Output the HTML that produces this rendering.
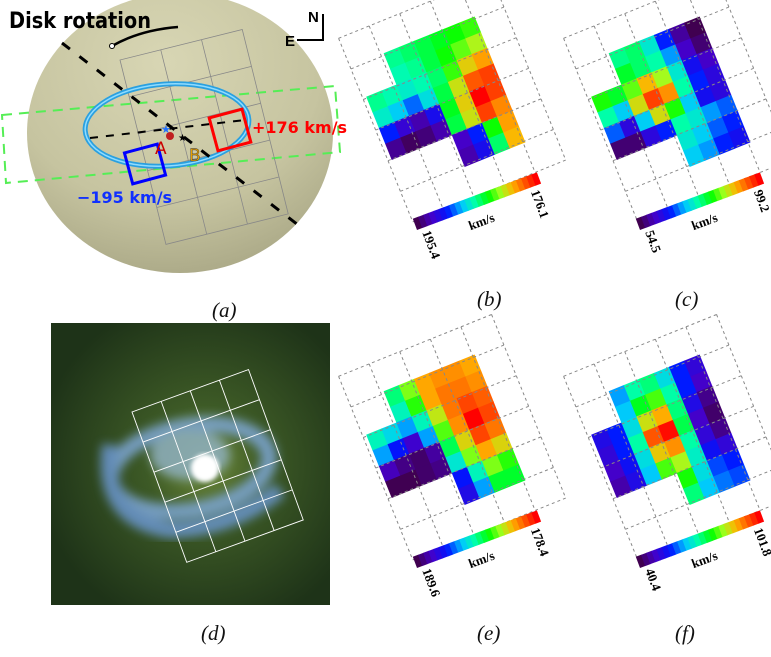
<!DOCTYPE html>
<html><head><meta charset="utf-8">
<style>
html,body{margin:0;padding:0;background:#fff;}
svg{display:block;font-family:"Liberation Sans",sans-serif;}
.lbl{font-family:"Liberation Serif",serif;font-style:italic;font-size:21px;fill:#111;}
</style></head>
<body>
<svg id="fig" width="771" height="657" viewBox="0 0 771 657" xmlns="http://www.w3.org/2000/svg">
<defs>
  <radialGradient id="sph" cx="0.45" cy="0.25" r="0.85">
    <stop offset="0" stop-color="#d8d6b4"/>
    <stop offset="0.6" stop-color="#c6c4a0"/>
    <stop offset="1" stop-color="#a3a180"/>
  </radialGradient>
  <radialGradient id="gal" cx="0.55" cy="0.5" r="0.6">
    <stop offset="0" stop-color="#6f8a3a"/>
    <stop offset="0.35" stop-color="#3d5a26"/>
    <stop offset="1" stop-color="#1e3318"/>
  </radialGradient>
  <filter id="blur2"><feGaussianBlur stdDeviation="2"/></filter>
  <filter id="blur5"><feGaussianBlur stdDeviation="5"/></filter>
</defs>

<g>
  <ellipse cx="180" cy="133" rx="153" ry="140" fill="url(#sph)"/>
  <polygon points="2,115 335,86 340,152 6,183" fill="none" stroke="#55ee55" stroke-width="2" stroke-dasharray="10,7"/>
  <g transform="translate(120,60) rotate(-14)" stroke="#888" stroke-width="0.8" fill="none">
    <rect x="0" y="0" width="126" height="190"/>
    <line x1="42" y1="0" x2="42" y2="190"/><line x1="84" y1="0" x2="84" y2="190"/>
    <line x1="0" y1="38" x2="126" y2="38"/><line x1="0" y1="76" x2="126" y2="76"/>
    <line x1="0" y1="114" x2="126" y2="114"/><line x1="0" y1="152" x2="126" y2="152"/>
  </g>
  <ellipse cx="167" cy="125" rx="82" ry="41" transform="rotate(-4 167 125)" fill="none" stroke="#2aa0e0" stroke-width="5"/>
  <ellipse cx="167" cy="125" rx="82" ry="41" transform="rotate(-4 167 125)" fill="none" stroke="#8fdcff" stroke-width="1.5"/>
  <line x1="62" y1="43" x2="302" y2="228" stroke="#000" stroke-width="3" stroke-dasharray="10,12"/>
  <line x1="90" y1="138" x2="245" y2="120" stroke="#000" stroke-width="2" stroke-dasharray="8,8"/>
  <path d="M112,46 Q140,30 178,27" fill="none" stroke="#000" stroke-width="2.5"/>
  <circle cx="112" cy="46" r="2.5" fill="#fff" stroke="#000"/>
  <text x="9" y="28" font-size="22" font-weight="bold" font-family="DejaVu Sans,sans-serif" fill="#000" textLength="142" lengthAdjust="spacingAndGlyphs">Disk rotation</text>
  <rect x="213" y="113" width="34" height="34" transform="rotate(-15 230 130)" fill="none" stroke="#f00" stroke-width="3"/>
  <rect x="128" y="148" width="34" height="32" transform="rotate(-15 145 164)" fill="none" stroke="#00f" stroke-width="3"/>
  <text x="252" y="133" font-size="16" font-weight="bold" font-family="DejaVu Sans,sans-serif" fill="#f00">+176 km/s</text>
  <text x="77" y="203" font-size="16" font-weight="bold" font-family="DejaVu Sans,sans-serif" fill="#1030ff">−195 km/s</text>
  <text x="155" y="154" font-size="17" fill="#c00" font-family="DejaVu Sans,sans-serif">A</text>
  <text x="189" y="161" font-size="17" fill="#e8a000" stroke="#333" stroke-width="0.4" font-family="DejaVu Sans,sans-serif">B</text>
  <circle cx="170" cy="136" r="4" fill="#c02020"/>
  <text x="178" y="141" font-size="10" fill="#000">★</text>
  <text x="161" y="133" font-size="11" fill="#2070ff">★</text>
  <g stroke="#000" stroke-width="2" fill="none">
    <polyline points="297,40 323,40 323,14"/>
  </g>
  <text x="308" y="22" font-size="15" font-weight="bold">N</text>
  <text x="285" y="46" font-size="15" font-weight="bold">E</text>
  <text class="lbl" x="212" y="317">(a)</text>
</g>

<g>
  <rect x="51" y="323" width="279" height="282" fill="url(#gal)"/>
  <g filter="url(#blur5)" opacity="0.85">
    <ellipse cx="190" cy="468" rx="80" ry="42" transform="rotate(-10 190 468)" fill="none" stroke="#7fa8d8" stroke-width="16"/>
    <path d="M110,445 Q100,520 170,530 Q230,530 280,490" fill="none" stroke="#6a96d0" stroke-width="16"/>
    <ellipse cx="190" cy="455" rx="40" ry="25" fill="#8fb0c0"/>
  </g>
  <circle cx="205" cy="468" r="14" fill="#fff" filter="url(#blur2)"/>
  <g transform="translate(132,412) rotate(-20)" stroke="#fff" stroke-width="0.9" fill="none">
    <rect x="0" y="0" width="124" height="160"/>
    <line x1="31" y1="0" x2="31" y2="160"/><line x1="62" y1="0" x2="62" y2="160"/><line x1="93" y1="0" x2="93" y2="160"/>
    <line x1="0" y1="32" x2="124" y2="32"/><line x1="0" y1="64" x2="124" y2="64"/><line x1="0" y1="96" x2="124" y2="96"/><line x1="0" y1="128" x2="124" y2="128"/>
  </g>
  <text class="lbl" x="201" y="640">(d)</text>
</g>

<g id="maps"></g>

<text class="lbl" x="477" y="306">(b)</text>
<text class="lbl" x="675" y="306">(c)</text>
<text class="lbl" x="477" y="640">(e)</text>
<text class="lbl" x="675" y="640">(f)</text>
</svg>

<script>
const n = null;
const mapB = [
  [n,n,-10,0,10,20,30,40],
  [n,n,-20,-10,10,30,50,70],
  [-10,-20,-30,-20,0,40,90,110],
  [-30,-50,-80,-40,10,80,140,150],
  [-100,-140,-160,-120,20,90,176,150],
  [-170,-190,-180,-160,10,80,150,120],
  [n,n,n,n,-150,-100,30,110],
  [n,n,n,n,-160,-120,0,100]
];
const mapC = [
  [n,n,77,78,74,66,58,54.5],
  [n,n,80,78,76,70,60,56],
  [82,80,84,90,86,74,64,60],
  [76,72,88,96,92,76,66,62],
  [68,62,72,88,82,72,64,62],
  [56,56,62,66,76,74,70,68],
  [n,n,n,n,74,72,68,66],
  [n,n,n,n,72,70,66,64]
];
const mapE = [
  [n,n,0,60,110,120,120,110],
  [n,n,-20,40,110,130,130,120],
  [-20,-40,-60,-20,80,130,150,140],
  [-60,-100,-140,-60,50,120,178,150],
  [-150,-170,-180,-160,10,90,150,130],
  [-189,-189,-180,-170,-30,60,110,90],
  [n,n,n,n,-100,-20,60,40],
  [n,n,n,n,-120,-60,20,20]
];
const mapF = [
  [n,n,62,70,72,66,56,50],
  [n,n,64,76,80,70,56,48],
  [52,56,66,86,90,72,52,44],
  [50,56,70,96,101,74,48,42],
  [48,54,66,88,92,70,50,44],
  [46,52,64,80,84,68,54,50],
  [n,n,n,n,78,66,58,56],
  [n,n,n,n,72,64,60,58]
];
const vminList = [-195.4, 54.5, -189.6, 40.4];
const vmaxList = [176.1, 99.2, 178.4, 101.8];
const minLabels = ["195.4", "54.5", "189.6", "40.4"];
const maxLabels = ["176.1", "99.2", "178.4", "101.8"];
const mapNames = ["b", "c", "e", "f"];

const cmapStops = [
  [0.0, 64, 0, 80], [0.12, 70, 0, 200], [0.25, 0, 20, 255], [0.38, 0, 200, 255],
  [0.48, 0, 255, 170], [0.6, 0, 255, 0], [0.7, 160, 255, 30], [0.8, 255, 180, 0],
  [0.9, 255, 90, 0], [1.0, 255, 0, 0]
];
function cmap(t){
  t = Math.max(0, Math.min(1, t));
  for (let i = 1; i < cmapStops.length; i++) {
    const a = cmapStops[i-1], b = cmapStops[i];
    if (t <= b[0]) {
      const f = (t - a[0])/(b[0] - a[0]);
      return `rgb(${Math.round(a[1]+(b[1]-a[1])*f)},${Math.round(a[2]+(b[2]-a[2])*f)},${Math.round(a[3]+(b[3]-a[3])*f)})`;
    }
  }
  return "rgb(255,0,0)";
}
const NS = "http://www.w3.org/2000/svg";
const root = document.getElementById("maps");
const offsets = [[0,0],[225,0],[0,338],[225,338]];
const maps = [mapB, mapC, mapE, mapF];
const CW = 16.25, CH = 16.9, Y0 = -35;

maps.forEach((m, k) => {
  const [ox, oy] = offsets[k];
  const vmin = vminList[k], vmax = vmaxList[k];
  const g = document.createElementNS(NS, "g");
  g.setAttribute("transform", `translate(${367+ox},${98+oy}) rotate(-22)`);
  
  
  root.appendChild(g);
  m.forEach((row, r) => row.forEach((v, c) => {
    if (v === null) return;
    const rc = document.createElementNS(NS, "rect");
    rc.setAttribute("x", c*CW - 0.3); rc.setAttribute("y", Y0 + r*CH - 0.3);
    rc.setAttribute("width", CW + 0.6); rc.setAttribute("height", CH + 0.6);
    rc.setAttribute("fill", cmap((v - vmin)/(vmax - vmin)));
    
    
    g.appendChild(rc);
  }));
  const gg = document.createElementNS(NS, "g");
  gg.setAttribute("stroke", "#888"); gg.setAttribute("stroke-width", "1");
  gg.setAttribute("stroke-dasharray", "3,3"); gg.setAttribute("fill", "none");
  
  
  g.appendChild(gg);
  for (let i = 0; i <= 5; i++) {
    const l = document.createElementNS(NS, "line");
    l.setAttribute("x1", -4 + i*33); l.setAttribute("x2", -4 + i*33);
    l.setAttribute("y1", -66); l.setAttribute("y2", 132);
    gg.appendChild(l);
  }
  for (let j = 0; j <= 6; j++) {
    const l = document.createElementNS(NS, "line");
    l.setAttribute("y1", -66 + j*33); l.setAttribute("y2", -66 + j*33);
    l.setAttribute("x1", -4); l.setAttribute("x2", 161);
    gg.appendChild(l);
  }
  const cb = document.createElementNS(NS, "g");
  cb.setAttribute("transform", `translate(${417+ox+(k%2?-2:0)},${230+oy}) rotate(-20.5)`);
  
  
  root.appendChild(cb);
  const N = 24, L = 132;
  for (let i = 0; i < N; i++) {
    const s = document.createElementNS(NS, "rect");
    s.setAttribute("x", i*L/N); s.setAttribute("y", -12);
    s.setAttribute("width", L/N + 0.5); s.setAttribute("height", 12);
    s.setAttribute("fill", cmap(i/(N-1)));
    cb.appendChild(s);
  }
  const mk = (txt, x, y, rot, name) => {
    const t = document.createElementNS(NS, "text");
    t.setAttribute("x", x); t.setAttribute("y", y);
    if (rot) t.setAttribute("transform", `rotate(${rot} ${x} ${y})`);
    t.setAttribute("font-family", "Liberation Serif, serif");
    t.setAttribute("font-size", "13");
    t.setAttribute("font-weight", "bold");
    t.textContent = txt;
    
    
    cb.appendChild(t);
  };
  mk(minLabels[k], 4, 4, 90, 'colorbar-min-label');
  mk("km/s", 50, 19, 0, 'colorbar-unit-label');
  mk(maxLabels[k], 120, 4, 90, 'colorbar-max-label');
});
</script>
</body></html>
